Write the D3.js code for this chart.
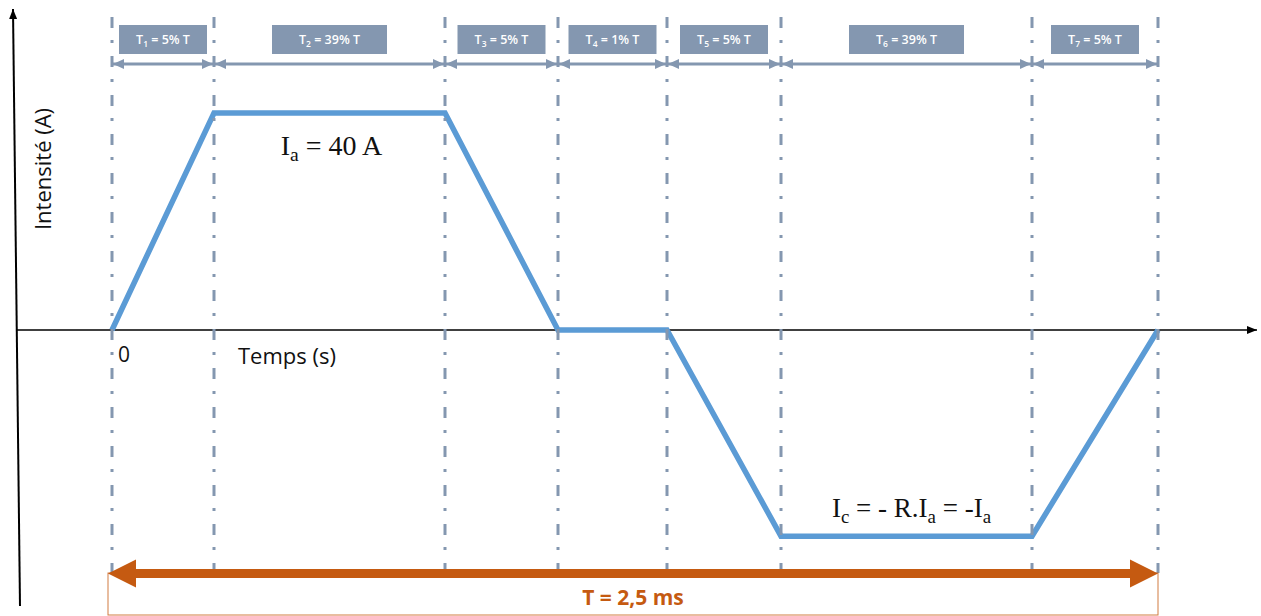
<!DOCTYPE html>
<html>
<head>
<meta charset="utf-8">
<script src="https://cdn.jsdelivr.net/npm/d3@7/dist/d3.min.js"></script>
<style>
  html, body { margin: 0; padding: 0; background: #ffffff; }
  svg { display: block; }
</style>
</head>
<body>
<svg id="chart" width="1261" height="616"></svg>
<script>
// ---- Data (schematic: the drawing is not to scale) ----
const segmentIndex   = [1, 2, 3, 4, 5, 6, 7];
const segmentPercent = [5, 39, 5, 1, 5, 39, 5];
// phase boundaries on the schematic time axis (as drawn, not proportional)
const boundaryTimes  = [0, 102, 333, 446, 555, 669, 920, 1046];
// current at each boundary (A)
const currentValues  = [0, 40, 40, 0, 0, -38, -38, 0];
const periodLabel    = "T = 2,5 ms";
const xAxisLabel     = "Temps (s)";
const yAxisLabel     = "Intensité (A)";
const originLabel    = "0";

const svg = d3.select("#chart");

const x = d3.scaleLinear().domain([0, 1046]).range([112, 1158]);
const y = d3.scaleLinear().domain([-40, 40]).range([547, 113]);

const grey = "#8497b0", blue = "#5b9bd5", orange = "#c55a11";

const defs = svg.append("defs");
function marker(id, color, w, h, orient) {
  defs.append("marker").attr("id", id)
    .attr("viewBox", `0 0 ${w} ${h}`).attr("refX", w).attr("refY", h / 2)
    .attr("markerWidth", w).attr("markerHeight", h)
    .attr("markerUnits", "userSpaceOnUse").attr("orient", orient)
    .append("path").attr("d", `M0,0L${w},${h / 2}L0,${h}Z`).attr("fill", color);
}
marker("axArrow", "#000", 10, 8, "auto");
marker("segArrow", grey, 11, 10, "auto-start-reverse");

// ---- Axes ----
svg.append("line").attr("x1", 20).attr("y1", 606).attr("x2", 13).attr("y2", 9)
  .attr("stroke", "#000").attr("stroke-width", 2).attr("marker-end", "url(#axArrow)");
svg.append("line").attr("x1", 17).attr("y1", y(0)).attr("x2", 1257).attr("y2", y(0))
  .attr("stroke", "#000").attr("stroke-width", 1.6).attr("marker-end", "url(#axArrow)");

svg.append("text").attr("transform", `translate(51,169) rotate(-90)`)
  .attr("text-anchor", "middle").attr("font-family", "Open Sans")
  .attr("font-size", 22).attr("fill", "#111").text(yAxisLabel);
svg.append("text").attr("x", 238).attr("y", 364).attr("font-family", "Open Sans")
  .attr("font-size", 22).attr("fill", "#111").text(xAxisLabel);
svg.append("text").attr("x", x(0) + 6).attr("y", 362).attr("font-family", "Open Sans")
  .attr("font-size", 21).attr("fill", "#111").text(originLabel);

// ---- Current waveform ----
const pts = boundaryTimes.map((t, i) => [t, currentValues[i]]);
svg.append("path").datum(pts)
  .attr("d", d3.line().x(d => x(d[0])).y(d => y(d[1])))
  .attr("fill", "none").attr("stroke", blue).attr("stroke-width", 5.5)
  .attr("stroke-linejoin", "miter");

// ---- Dash-dot boundary lines ----
svg.append("g").selectAll("line").data(boundaryTimes).join("line")
  .attr("x1", d => x(d)).attr("x2", d => x(d)).attr("y1", 17).attr("y2", 573)
  .attr("stroke", grey).attr("stroke-width", 3)
  .attr("stroke-dasharray", "11,12,3,13");

// ---- Segment arrows and labels ----
const segs = segmentIndex.map((k, i) => ({ k, p: segmentPercent[i], t0: boundaryTimes[i], t1: boundaryTimes[i + 1] }));
const gSeg = svg.append("g");
gSeg.selectAll("line").data(segs).join("line")
  .attr("x1", d => x(d.t0) + 1).attr("x2", d => x(d.t1) - 1)
  .attr("y1", 64).attr("y2", 64)
  .attr("stroke", grey).attr("stroke-width", 3)
  .attr("marker-start", "url(#segArrow)").attr("marker-end", "url(#segArrow)");

const boxes = gSeg.selectAll("g.box").data(segs).join("g").attr("class", "box")
  .attr("transform", d => `translate(${(x(d.t0) + x(d.t1)) / 2},0)`);
boxes.append("rect")
  .attr("x", d => d.p >= 10 ? -57.5 : -44).attr("width", d => d.p >= 10 ? 115 : 88)
  .attr("y", 25).attr("height", 29).attr("fill", grey);
const bt = boxes.append("text").attr("y", 44).attr("text-anchor", "middle")
  .attr("font-family", "Open Sans").attr("font-size", 12.5).attr("font-weight", 600)
  .attr("fill", "#ffffff");
bt.append("tspan").text("T");
bt.append("tspan").attr("font-size", 8.5).attr("dy", 3).text(d => d.k);
bt.append("tspan").attr("dy", -3).text(d => ` = ${d.p}% T`);

// ---- Math annotations ----
function mathLabel(cx, by, size, parts) {
  const t = svg.append("text").attr("x", cx).attr("y", by).attr("text-anchor", "middle")
    .attr("font-family", "Liberation Serif").attr("font-size", size).attr("fill", "#111");
  let sub = false;
  parts.forEach(([s, isSub]) => {
    const ts = t.append("tspan").text(s);
    if (isSub && !sub) { ts.attr("font-size", size * 0.7).attr("dy", 6); sub = true; }
    else if (!isSub && sub) { ts.attr("dy", -6); sub = false; }
    else if (isSub) ts.attr("font-size", size * 0.7);
  });
}
mathLabel((x(boundaryTimes[1]) + x(boundaryTimes[2])) / 2 + 2, y(40) + 42, 28,
  [["I", false], ["a", true], [" = 40 A", false]]);
mathLabel((x(boundaryTimes[5]) + x(boundaryTimes[6])) / 2 + 5, y(-38) - 19, 27,
  [["I", false], ["c", true], [" = - R.I", false], ["a", true], [" = -I", false], ["a", true]]);

// ---- Period arrow ----
svg.append("rect").attr("x", x(0) - 4).attr("y", 573).attr("width", x(1046) - x(0) + 4)
  .attr("height", 42).attr("fill", "none").attr("stroke", orange).attr("stroke-width", 1)
  .attr("stroke-opacity", 0.8);
const ax0 = x(0) - 4, ax1 = x(1046), ay = 573.5, hl = 28, hh = 14, sw = 4.5;
svg.append("path")
  .attr("d", `M${ax0},${ay}L${ax0 + hl},${ay - hh}L${ax0 + hl},${ay - sw}L${ax1 - hl},${ay - sw}L${ax1 - hl},${ay - hh}L${ax1},${ay}L${ax1 - hl},${ay + hh}L${ax1 - hl},${ay + sw}L${ax0 + hl},${ay + sw}L${ax0 + hl},${ay + hh}Z`)
  .attr("fill", orange);
svg.append("text").attr("x", 633).attr("y", 605).attr("text-anchor", "middle")
  .attr("font-family", "Open Sans").attr("font-weight", 700).attr("font-size", 21)
  .attr("fill", orange).text(periodLabel);
</script>
</body>
</html>
